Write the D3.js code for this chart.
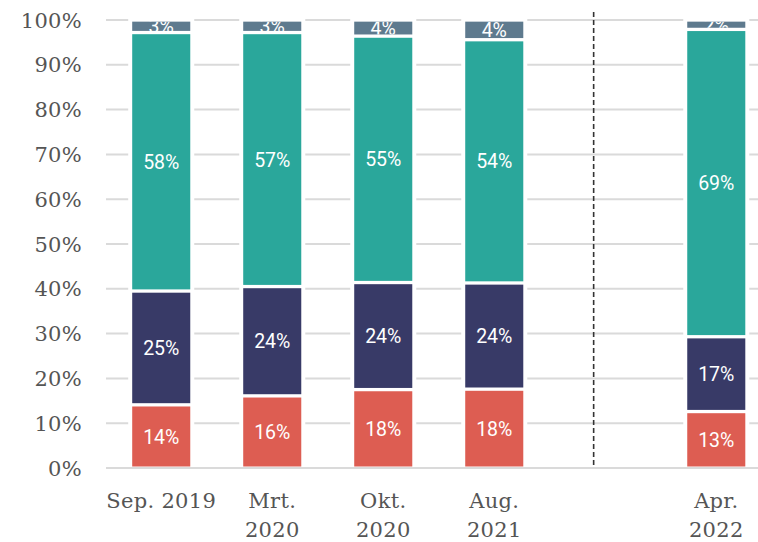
<!DOCTYPE html>
<html>
<head>
<meta charset="utf-8">
<script src="https://cdn.jsdelivr.net/npm/d3@7"></script>
<style>
  body { margin: 0; background: #fff; }
  .tick_label { font-family: "DejaVu Serif", serif; font-size: 21px; fill: #555; letter-spacing: 0.3px; }
  .val_label { font-family: Roboto, sans-serif; font-size: 19.5px; fill: #fff; }
</style>
</head>
<body>
<div id="chart"></div>
<script>
// categories (blank slot = gap before the dashed separator)
let categories = ["Sep. 2019", "Mrt. 2020", "Okt. 2020", "Aug. 2021", "", "Apr. 2022"];
let label_lines = [["Sep. 2019"], ["Mrt.", "2020"], ["Okt.", "2020"], ["Aug.", "2021"], [], ["Apr.", "2022"]];

// series values (percent)
let series_keys = ["s1", "s2", "s3", "s4"];
let s1 = [14.1, 16.1, 17.5, 17.6, null, 12.6];
let s2 = [25.4, 24.4, 23.9, 23.7, null, 16.7];
let s3 = [57.7, 56.7, 55.0, 54.3, null, 68.6];
let s4 = [2.8, 2.8, 3.6, 4.4, null, 2.1];
let colors = ["#dd5d52", "#383a67", "#2aa79b", "#5e7a8e"];

let y_ticks = [0, 10, 20, 30, 40, 50, 60, 70, 80, 90, 100];

let width = 758, height = 542;

let data = categories.map((c, i) => ({cat: c, s1: s1[i], s2: s2[i], s3: s3[i], s4: s4[i]}))
	.filter(d => d.s1 !== null);

let svg = d3.select("#chart").append("svg")
	.attr("width", width)
	.attr("height", height);

// scales
let x_scale = d3.scaleBand()
	.domain(categories)
	.range([110, 767.5])
	.paddingInner(0.477)
	.paddingOuter(0.2);

let y_scale = d3.scaleLinear()
	.domain([0, 100])
	.range([468, 20]);

// gridlines
svg.append("g").selectAll("line")
	.data(y_ticks.filter(t => t > 0))
	.enter().append("line")
	.attr("x1", 106).attr("x2", width)
	.attr("y1", d => y_scale(d)).attr("y2", d => y_scale(d))
	.attr("stroke", "#dadada").attr("stroke-width", 2);

// y tick labels
svg.append("g").selectAll("text")
	.data(y_ticks)
	.enter().append("text")
	.attr("class", "tick_label")
	.attr("text-anchor", "end")
	.attr("x", 82)
	.attr("y", d => y_scale(d))
	.attr("dy", "0.36em")
	.text(d => d + "%");

// dashed separator
let sep_x = x_scale("") + x_scale.bandwidth() * 0.3;
svg.append("line")
	.attr("x1", sep_x).attr("x2", sep_x)
	.attr("y1", 12).attr("y2", y_scale(0))
	.attr("stroke", "#333").attr("stroke-width", 1.6)
	.attr("stroke-dasharray", "5,3");

// white knock-out behind bars
svg.append("g").selectAll("rect")
	.data(data)
	.enter().append("rect")
	.attr("x", d => x_scale(d.cat) - 4)
	.attr("width", x_scale.bandwidth() + 8)
	.attr("y", y_scale(100) - 2)
	.attr("height", y_scale(0) - y_scale(100) + 1)
	.attr("fill", "#fff");

// baseline
svg.append("line")
	.attr("x1", 106).attr("x2", width)
	.attr("y1", y_scale(0)).attr("y2", y_scale(0))
	.attr("stroke", "#dadada").attr("stroke-width", 2);

// stacked bars
let stacked = d3.stack().keys(series_keys)(data);
let gap = 1.65;

let defs = svg.append("defs");

stacked.forEach((layer, li) => {
	let g = svg.append("g");
	layer.forEach((seg, i) => {
		let d = seg.data;
		let x0 = x_scale(d.cat);
		let top = y_scale(seg[1]) + gap;
		let bottom = y_scale(seg[0]) - gap;
		if (li === 0) bottom = y_scale(0) - 1.5;
		let id = "clip_" + li + "_" + i;
		defs.append("clipPath").attr("id", id)
			.append("rect")
			.attr("x", x0).attr("y", top)
			.attr("width", x_scale.bandwidth())
			.attr("height", Math.max(0, bottom - top));
		g.append("rect")
			.attr("x", x0).attr("y", top)
			.attr("width", x_scale.bandwidth())
			.attr("height", Math.max(0, bottom - top))
			.attr("fill", colors[li]);
		g.append("text")
			.attr("class", "val_label")
			.attr("clip-path", "url(#" + id + ")")
			.attr("text-anchor", "middle")
			.attr("x", x0 + x_scale.bandwidth() / 2)
			.attr("y", (top + bottom) / 2)
			.attr("dy", "0.36em")
			.text(Math.round(seg[1] - seg[0]) + "%");
	});
});

// x labels
let x_labels = svg.append("g");
categories.forEach((c, i) => {
	label_lines[i].forEach((line, k) => {
		x_labels.append("text")
			.attr("class", "tick_label")
			.attr("text-anchor", "middle")
			.attr("x", x_scale(c) + x_scale.bandwidth() / 2)
			.attr("y", 508 + k * 29)
			.text(line);
	});
});
</script>
</body>
</html>
